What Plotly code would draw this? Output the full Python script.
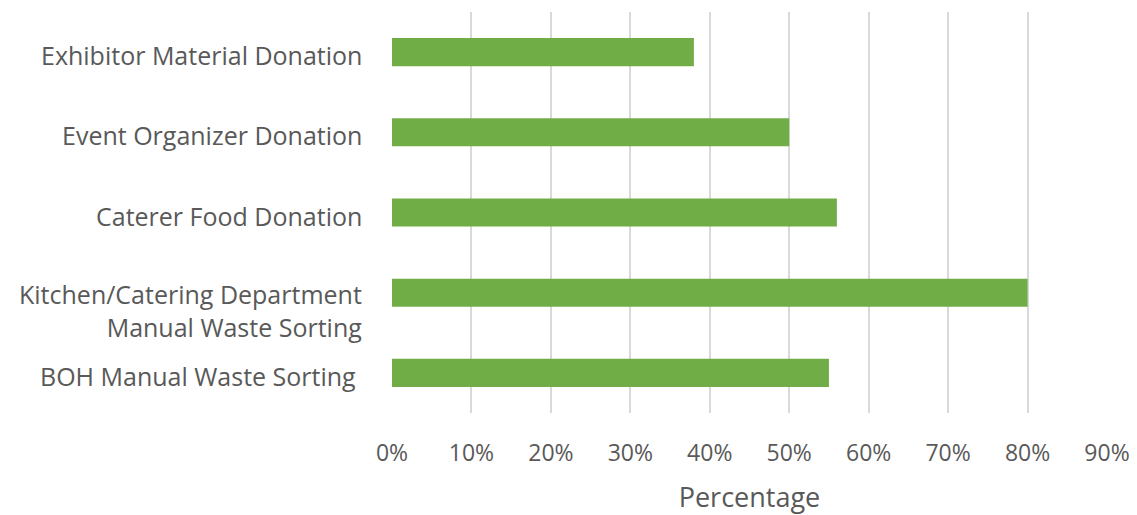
import plotly.graph_objects as go

categories = [
    "BOH Manual Waste Sorting",
    "Kitchen/Catering Department<br>Manual Waste Sorting",
    "Caterer Food Donation",
    "Event Organizer Donation",
    "Exhibitor Material Donation",
]
label_text = [
    "BOH Manual Waste Sorting\u00a0",
    "Kitchen/Catering Department<br>Manual Waste Sorting",
    "Caterer Food Donation",
    "Event Organizer Donation",
    "Exhibitor Material Donation",
]
values = [0.55, 0.80, 0.56, 0.50, 0.38]
tick_vals = [0, 0.1, 0.2, 0.3, 0.4, 0.5, 0.6, 0.7, 0.8, 0.9]
tick_text = ["0%", "10%", "20%", "30%", "40%", "50%", "60%", "70%", "80%", "90%"]

# page body has an 8px margin; figure sized to compensate
W, H = 1129, 507

fig = go.Figure(go.Bar(
    y=categories, x=values, orientation="h",
    marker=dict(color="#70AD47", line=dict(width=0)),
    width=0.35,
))

font_family = "Open Sans, sans-serif"
label_color = "#595959"

for cat, txt in zip(categories, label_text):
    two_line = "<br>" in txt
    fig.add_annotation(
        x=0, xref="paper", y=cat, yref="y",
        text=txt, showarrow=False,
        xanchor="right", yanchor="middle", align="right",
        xshift=-28, yshift=-18 if two_line else -3,
        font=dict(family=font_family, size=25, color=label_color),
    )

fig.update_layout(
    width=W, height=H,
    margin=dict(l=384, r=30, t=4, b=102),
    plot_bgcolor="white", paper_bgcolor="white",
    showlegend=False,
    font=dict(family=font_family, color=label_color, size=22),
    xaxis=dict(
        range=[0, 0.9], tickvals=tick_vals, ticktext=tick_text,
        showgrid=True, gridcolor="#D9D9D9", gridwidth=2,
        zeroline=False, showline=False, ticks="",
        tickfont=dict(size=23, color=label_color),
        ticklabelstandoff=24,
        title=dict(text="Percentage", font=dict(size=27, color=label_color), standoff=22),
        automargin=False,
    ),
    yaxis=dict(
        showgrid=False, zeroline=False, showline=False, ticks="",
        showticklabels=False, automargin=False,
    ),
)

fig.write_html("out.html")
